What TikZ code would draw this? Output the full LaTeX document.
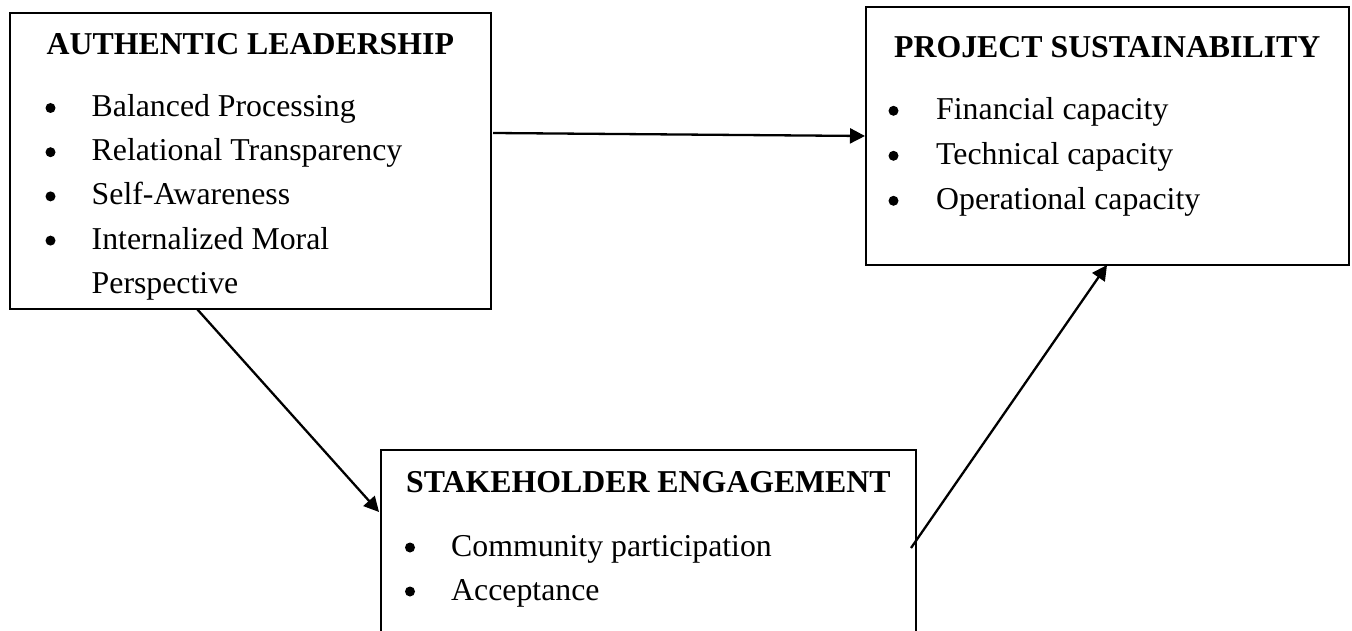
\documentclass[tikz,border=0pt]{standalone}
\usepackage{fontspec}
\setmainfont{Liberation Serif}
\usetikzlibrary{calc,arrows.meta}

\begin{document}
\begin{tikzpicture}[x=1pt,y=-1pt,
  box/.style={draw, line width=2.8pt, rectangle, anchor=north west,
              inner sep=0pt, outer sep=0pt},
  heading/.style={anchor=base west, inner sep=0pt,
                  font=\fontsize{31.8}{38}\selectfont\bfseries},
  item/.style={anchor=base west, inner sep=0pt,
               font=\fontsize{31.8}{38}\selectfont},
  dot/.style={circle, fill, inner sep=0pt, minimum size=10pt},
  link/.style={line width=2.3pt, -{Triangle[length=15pt,width=15pt]}}]

\useasboundingbox (0,0) rectangle (1352,631);
\clip (0,0) rectangle (1352,631);
\fill[white] (0,0) rectangle (1352,631);

% the three construct boxes
\node[box, minimum width=481pt, minimum height=296pt] (A) at (10,13) {};
\node[box, minimum width=483pt, minimum height=258pt] (P) at (866,7) {};
\node[box, minimum width=535pt, minimum height=200pt] (S) at (381,450) {};

% Authentic leadership
\node[heading] (Ahead) at (46.5,55) {AUTHENTIC LEADERSHIP};
\foreach \t [count=\i from 0] in {Balanced Processing,Relational Transparency,Self-Awareness,Internalized Moral}{
  \node[dot] (Ab\i) at (50.5,108+44.2*\i) {};
  \node[item] (Ai\i) at (91.5,116.5+44.2*\i) {\t};
}
\node[item] (Ai4) at (91.5,293.3) {Perspective};

% Project sustainability
\node[heading] (Phead) at (894,58) {PROJECT SUSTAINABILITY};
\foreach \t [count=\i from 0] in {Financial capacity,Technical capacity,Operational capacity}{
  \node[dot] (Pb\i) at (893.5,110.8+45*\i) {};
  \node[item] (Pi\i) at (936,119.3+45*\i) {\t};
}

% Stakeholder engagement
\node[heading] (Shead) at (406,492) {STAKEHOLDER ENGAGEMENT};
\foreach \t [count=\i from 0] in {Community participation,Acceptance}{
  \node[dot] (Sb\i) at (410,547.5+44*\i) {};
  \node[item] (Si\i) at (451,556+44*\i) {\t};
}

% relations between the constructs
\draw[link] ($(A.north east)+(2,120)$) -- ($(P.north west)+(-1,129)$);
\draw[link] ($(A.south west)+(187,0)$) -- ($(S.north west)+(-2,62)$);
\draw[link] ($(S.north east)+(-5,98)$) -- ($(P.south west)+(241,0)$);

\end{tikzpicture}
\end{document}
